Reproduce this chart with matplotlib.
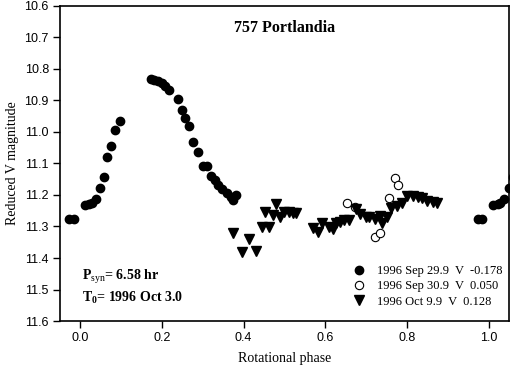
import matplotlib

matplotlib.use("Agg")
import matplotlib.pyplot as plt
import numpy as np

# 1996 Sep 29.9 (filled circles), phases; also drawn again at phase + 1
sep29_phase = [-0.027, -0.015, 0.012, 0.022, 0.029, 0.039, 0.049, 0.059, 0.066,
               0.076, 0.086, 0.096,
               0.172, 0.181, 0.191, 0.201, 0.208, 0.216, 0.238, 0.248, 0.257,
               0.267, 0.277, 0.289, 0.301, 0.311, 0.321, 0.331, 0.338, 0.348,
               0.358, 0.368, 0.373, 0.382]
sep29_mag = [11.276, 11.276, 11.232, 11.229, 11.225, 11.213, 11.178, 11.143, 11.079,
             11.044, 10.994, 10.965,
             10.832, 10.835, 10.838, 10.844, 10.854, 10.867, 10.895, 10.930, 10.956,
             10.981, 11.032, 11.063, 11.108, 11.108, 11.140, 11.152, 11.168, 11.181,
             11.194, 11.206, 11.216, 11.200]

# 1996 Sep 30.9 (open circles)
sep30_phase = [0.652, 0.672, 0.723, 0.735, 0.757, 0.772, 0.779]
sep30_mag = [11.225, 11.238, 11.333, 11.321, 11.210, 11.146, 11.168]

# 1996 Oct 9.9 (triangles)
oct9_phase = [0.373, 0.395, 0.412, 0.431, 0.446, 0.461, 0.453, 0.471, 0.480, 0.490,
              0.500, 0.510, 0.520, 0.529, 0.569, 0.581, 0.591, 0.608, 0.618, 0.627,
              0.637, 0.647, 0.659, 0.676, 0.686, 0.699, 0.708, 0.721, 0.733, 0.740,
              0.750, 0.762, 0.775, 0.787, 0.801, 0.814, 0.826, 0.838, 0.850, 0.863,
              0.873]
oct9_mag = [11.321, 11.382, 11.340, 11.378, 11.302, 11.302, 11.254, 11.263, 11.229, 11.270,
            11.254, 11.254, 11.257, 11.257, 11.305, 11.317, 11.289, 11.302, 11.308, 11.289,
            11.286, 11.279, 11.279, 11.244, 11.260, 11.270, 11.270, 11.276, 11.267, 11.289,
            11.270, 11.241, 11.235, 11.225, 11.203, 11.203, 11.206, 11.210, 11.219, 11.222,
            11.225]

legend_labels = ["1996 Sep 29.9  V  -0.178",
                 "1996 Sep 30.9  V  0.050",
                 "1996 Oct 9.9  V  0.128"]
x_ticks = [0.0, 0.2, 0.4, 0.6, 0.8, 1.0]
y_ticks = [10.6, 10.7, 10.8, 10.9, 11.0, 11.1, 11.2, 11.3, 11.4, 11.5, 11.6]

SERIF = "Liberation Serif"
SANS = "Liberation Sans"
plt.rcParams["mathtext.fontset"] = "custom"
plt.rcParams["mathtext.rm"] = SERIF
plt.rcParams["mathtext.bf"] = SERIF + ":bold"

fig = plt.figure(figsize=(5.11, 3.69), dpi=100)
ax = fig.add_axes([0.1174, 0.130, 0.8786, 0.854])

p29 = np.array(sep29_phase)
ax.plot(np.concatenate([p29, p29 + 1]), sep29_mag * 2, "o", color="black",
        markersize=6, label=legend_labels[0])
ax.plot(sep30_phase, sep30_mag, "o", markerfacecolor="white", markeredgecolor="black",
        markeredgewidth=0.8, markersize=6, label=legend_labels[1])
ax.plot(oct9_phase, oct9_mag, "v", color="black", markersize=6.5,
        label=legend_labels[2])

ax.set_xlim(-0.05, 1.05)
ax.set_ylim(11.6, 10.6)
ax.set_xticks(x_ticks)
ax.set_xticklabels([f"{t:.1f}" for t in x_ticks], fontfamily=SANS, fontsize=9)
ax.set_yticks(y_ticks)
ax.set_yticklabels([f"{t:.1f}" for t in y_ticks], fontfamily=SANS, fontsize=9)
ax.tick_params(direction="out", length=5, width=1, color="black", pad=3)
for s in ax.spines.values():
    s.set_linewidth(1.2)

ax.set_xlabel("Rotational phase", fontfamily=SERIF, fontsize=10, labelpad=6)
ax.set_ylabel("Reduced V magnitude", fontfamily=SERIF, fontsize=10, labelpad=4)

ax.text(0.5, 0.93, "757 Portlandia", transform=ax.transAxes, ha="center", va="center",
        fontfamily=SERIF, fontweight="bold", fontsize=11.5)
ax.text(0.05, 0.14, r"P$_{\mathrm{syn}}$= 6.58 hr", transform=ax.transAxes, ha="left",
        va="center", fontfamily=SERIF, fontweight="bold", fontsize=10)
ax.text(0.05, 0.073, r"T$_{\mathbf{0}}$= 1996 Oct 3.0", transform=ax.transAxes, ha="left",
        va="center", fontfamily=SERIF, fontweight="bold", fontsize=10)

ax.legend(loc="lower right", bbox_to_anchor=(1.005, 0.015), frameon=False,
          prop={"family": SERIF, "size": 9}, handlelength=1.0, handletextpad=0.9,
          labelspacing=0.25, borderpad=0.2)

fig.savefig("out.png", dpi=100)
